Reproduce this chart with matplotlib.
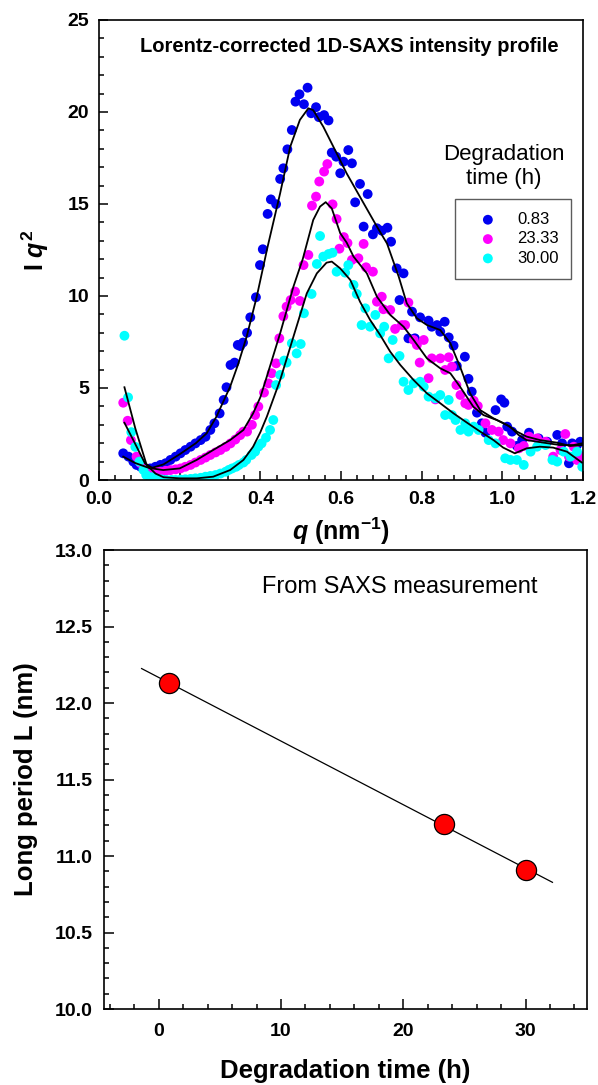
import matplotlib
matplotlib.use('Agg')
import matplotlib.pyplot as plt
import numpy as np
from matplotlib.ticker import MultipleLocator

# Lorentz-corrected SAXS profiles, I*q^2 vs q (nm^-1), for each degradation time
q_083 = [0.060, 0.073, 0.085, 0.093, 0.103, 0.115, 0.127, 0.140, 0.152, 0.165, 0.177, 0.190,
         0.202, 0.214, 0.227, 0.239, 0.252, 0.264, 0.276, 0.286, 0.299, 0.309, 0.316, 0.326,
         0.336, 0.344, 0.350, 0.357, 0.367, 0.375, 0.389, 0.399, 0.406, 0.418, 0.426, 0.439,
         0.449, 0.457, 0.467, 0.478, 0.487, 0.497, 0.508, 0.517, 0.526, 0.538, 0.545, 0.558,
         0.569, 0.577, 0.588, 0.598, 0.606, 0.618, 0.627, 0.635, 0.647, 0.656, 0.666, 0.679,
         0.689, 0.701, 0.715, 0.724, 0.738, 0.745, 0.755, 0.767, 0.776, 0.783, 0.796, 0.817,
         0.825, 0.838, 0.846, 0.857, 0.867, 0.879, 0.887, 0.907, 0.916, 0.924, 0.937, 0.949,
         0.958, 0.983, 0.997, 1.005, 1.012, 1.024, 1.036, 1.049, 1.066, 1.090, 1.111, 1.136,
         1.148, 1.165, 1.173, 1.185, 1.193]
iq2_083 = [1.45, 1.27, 1.00, 0.82, 0.72, 0.63, 0.63, 0.72, 0.82, 0.91, 1.09, 1.27,
           1.45, 1.63, 1.81, 1.99, 2.17, 2.35, 2.72, 3.08, 3.62, 4.35, 5.04, 6.25,
           6.38, 7.34, 7.28, 7.47, 8.00, 8.84, 9.93, 11.68, 12.54, 14.46, 15.25, 14.99,
           16.36, 16.94, 17.97, 19.02, 20.56, 20.96, 20.42, 21.32, 19.93, 20.26, 19.72, 19.83,
           19.54, 17.79, 17.57, 16.67, 17.30, 17.93, 17.21, 15.09, 16.09, 13.77, 15.54, 13.35,
           13.68, 13.55, 13.71, 12.95, 11.50, 9.78, 11.23, 7.70, 9.15, 7.70, 8.84, 8.66,
           8.33, 8.42, 8.06, 8.60, 7.75, 7.30, 6.20, 6.70, 5.50, 4.80, 3.66, 3.08,
           2.57, 3.80, 4.38, 4.20, 2.90, 2.63, 1.85, 2.17, 2.57, 2.26, 2.08, 2.45,
           1.99, 0.91, 1.99, 1.90, 2.08]

q_2333 = [0.060, 0.071, 0.079, 0.093, 0.103, 0.115, 0.127, 0.140, 0.152, 0.165, 0.177, 0.190,
          0.202, 0.214, 0.227, 0.239, 0.252, 0.264, 0.276, 0.289, 0.301, 0.314, 0.326, 0.338,
          0.350, 0.358, 0.367, 0.379, 0.387, 0.395, 0.409, 0.420, 0.428, 0.439, 0.447, 0.457,
          0.465, 0.475, 0.486, 0.498, 0.507, 0.519, 0.528, 0.538, 0.546, 0.558, 0.566, 0.579,
          0.589, 0.596, 0.607, 0.616, 0.627, 0.643, 0.656, 0.662, 0.679, 0.689, 0.701, 0.705,
          0.722, 0.734, 0.751, 0.759, 0.767, 0.780, 0.788, 0.795, 0.805, 0.817, 0.825, 0.834,
          0.846, 0.858, 0.867, 0.875, 0.886, 0.896, 0.908, 0.916, 0.929, 0.939, 0.958, 0.974,
          0.991, 1.002, 1.020, 1.041, 1.053, 1.066, 1.086, 1.107, 1.126, 1.144, 1.156, 1.165,
          1.177, 1.185, 1.194]
iq2_2333 = [4.20, 3.22, 2.17, 1.27, 0.91, 0.60, 0.45, 0.45, 0.45, 0.50, 0.54, 0.58,
            0.63, 0.72, 0.82, 0.95, 1.09, 1.22, 1.36, 1.50, 1.63, 1.80, 1.99, 2.20,
            2.44, 2.63, 2.63, 3.00, 3.53, 3.99, 4.75, 5.25, 5.80, 6.34, 7.70, 8.90,
            9.42, 9.78, 10.24, 9.73, 11.68, 12.23, 14.91, 15.40, 16.22, 16.76, 17.17, 14.98,
            14.18, 12.57, 13.20, 12.88, 11.96, 12.05, 12.83, 11.56, 11.32, 9.69, 9.96, 9.28,
            9.24, 8.21, 8.42, 8.42, 9.64, 7.61, 7.34, 6.38, 7.61, 5.53, 6.61, 4.38,
            6.61, 5.98, 6.67, 6.16, 5.16, 4.62, 4.17, 4.08, 4.31, 4.02, 3.08, 2.72,
            2.63, 2.17, 1.99, 1.72, 1.85, 2.36, 2.26, 2.08, 1.27, 1.63, 2.50, 1.27,
            1.81, 1.09, 1.30]

q_3000 = [0.063, 0.072, 0.080, 0.090, 0.100, 0.110, 0.117, 0.130, 0.142, 0.155, 0.167, 0.180,
          0.190, 0.202, 0.214, 0.227, 0.239, 0.252, 0.264, 0.276, 0.289, 0.301, 0.314, 0.322,
          0.330, 0.340, 0.347, 0.358, 0.365, 0.378, 0.387, 0.395, 0.403, 0.414, 0.424, 0.432,
          0.439, 0.449, 0.459, 0.465, 0.478, 0.490, 0.500, 0.508, 0.527, 0.540, 0.548, 0.556,
          0.569, 0.579, 0.589, 0.610, 0.618, 0.631, 0.639, 0.651, 0.660, 0.672, 0.685, 0.697,
          0.707, 0.718, 0.728, 0.745, 0.755, 0.767, 0.780, 0.796, 0.805, 0.817, 0.834, 0.846,
          0.858, 0.867, 0.875, 0.884, 0.896, 0.908, 0.916, 0.929, 0.941, 0.966, 0.983, 1.007,
          1.020, 1.036, 1.053, 1.070, 1.086, 1.107, 1.124, 1.136, 1.152, 1.169, 1.185, 1.198]
iq2_3000 = [7.84, 4.49, 2.60, 1.80, 1.00, 0.55, 0.27, 0.15, 0.09, 0.03, 0.00, 0.00,
            0.00, 0.02, 0.04, 0.06, 0.09, 0.12, 0.18, 0.22, 0.27, 0.35, 0.45, 0.55,
            0.63, 0.72, 0.82, 0.95, 1.09, 1.36, 1.54, 1.81, 1.99, 2.30, 2.72, 3.26,
            5.16, 5.71, 6.49, 6.38, 7.43, 6.88, 7.39, 9.06, 10.11, 11.74, 13.26, 12.14,
            12.28, 12.35, 11.32, 11.27, 11.68, 10.60, 10.11, 8.42, 9.33, 8.33, 8.97, 7.97,
            8.33, 6.61, 7.61, 6.74, 5.34, 4.89, 5.25, 5.34, 5.07, 4.53, 4.44, 4.62,
            3.53, 4.35, 3.53, 3.26, 2.72, 3.08, 2.63, 2.90, 2.72, 2.17, 1.99, 1.18,
            1.09, 1.09, 0.82, 1.54, 1.81, 1.90, 1.09, 1.00, 1.54, 1.27, 1.54, 0.72]

# smoothed fit curves through each profile
fit_q_083 = [0.060, 0.090, 0.127, 0.160, 0.200, 0.240, 0.267, 0.291, 0.325, 0.345, 0.366, 0.391,
             0.418, 0.449, 0.474, 0.498, 0.519, 0.531, 0.556, 0.581, 0.614, 0.656, 0.689, 0.714,
             0.743, 0.763, 0.788, 0.813, 0.846, 0.871, 0.896, 0.920, 0.945, 0.978, 1.011, 1.036,
             1.060, 1.093, 1.135, 1.168, 1.197]
fit_083 = [1.27, 0.92, 0.63, 0.85, 1.40, 2.00, 2.54, 3.44, 5.07, 6.30, 7.79, 9.96,
           12.68, 15.58, 18.11, 19.57, 20.20, 20.10, 19.20, 18.11, 16.66, 15.04, 13.77, 12.85,
           11.05, 9.60, 8.79, 8.42, 8.15, 7.43, 6.10, 4.71, 3.80, 3.35, 3.00, 2.63,
           2.36, 2.17, 2.03, 1.85, 1.90]

fit_q_2333 = [0.063, 0.090, 0.114, 0.135, 0.159, 0.200, 0.242, 0.283, 0.325, 0.358, 0.382, 0.400,
              0.416, 0.449, 0.482, 0.505, 0.531, 0.548, 0.562, 0.577, 0.598, 0.614, 0.631, 0.664,
              0.689, 0.722, 0.755, 0.780, 0.813, 0.846, 0.871, 0.895, 0.928, 0.953, 0.986, 1.019,
              1.040, 1.060, 1.102, 1.143, 1.176, 1.197]
fit_2333 = [3.11, 1.95, 0.90, 0.62, 0.54, 0.63, 1.09, 1.63, 2.17, 2.72, 3.62, 4.50,
            5.62, 7.97, 10.51, 12.00, 14.13, 14.86, 15.10, 14.76, 13.41, 12.90, 12.14, 11.23,
            9.96, 8.97, 8.33, 7.61, 6.61, 6.07, 5.80, 5.07, 3.98, 3.53, 3.26, 2.90,
            2.45, 2.17, 2.03, 1.90, 1.90, 1.99]

fit_q_3000 = [0.063, 0.090, 0.118, 0.140, 0.160, 0.200, 0.242, 0.283, 0.325, 0.358, 0.382, 0.400,
              0.416, 0.449, 0.482, 0.515, 0.540, 0.564, 0.577, 0.598, 0.623, 0.647, 0.672, 0.697,
              0.722, 0.747, 0.780, 0.813, 0.846, 0.879, 0.912, 0.945, 0.978, 1.002, 1.031, 1.060,
              1.093, 1.126, 1.160, 1.197]
fit_3000 = [5.04, 2.80, 0.82, 0.35, 0.15, 0.09, 0.09, 0.18, 0.54, 1.09, 1.81, 2.60,
            3.44, 5.43, 7.79, 10.14, 11.23, 11.81, 11.87, 11.50, 10.87, 9.69, 8.70, 7.88,
            6.97, 6.25, 5.43, 4.71, 4.17, 3.62, 3.12, 2.63, 2.17, 1.76, 1.45, 1.72,
            1.81, 1.76, 1.54, 0.95]

series_labels = ['0.83', '23.33', '30.00']

# long period from SAXS vs degradation time
deg_time = [0.83, 23.33, 30.00]
long_period = [12.13, 11.21, 10.91]
fit_range = [-1.4, 32.2]

if __name__ == '__main__':
    plt.rcParams['font.family'] = ['Liberation Sans', 'DejaVu Sans']
    plt.rcParams['mathtext.fontset'] = 'custom'
    plt.rcParams['mathtext.rm'] = 'Liberation Sans:bold'
    plt.rcParams['mathtext.bf'] = 'Liberation Sans:bold'
    plt.rcParams['mathtext.it'] = 'Liberation Sans:bold:italic'

    fig = plt.figure(figsize=(5.98, 10.85), dpi=100)

    # ---- top: Lorentz-corrected intensity profiles
    ax1 = fig.add_axes([0.1656, 0.5576, 0.8094, 0.4240])
    colors = ['#0000F0', '#FF00FF', '#00FFFF']
    for q, iq, c, lab in zip([q_083, q_2333, q_3000], [iq2_083, iq2_2333, iq2_3000],
                             colors, series_labels):
        ax1.scatter(q, iq, s=50, color=c, edgecolors='none', label=lab, zorder=2)
    for fq, fi in zip([fit_q_083, fit_q_2333, fit_q_3000], [fit_083, fit_2333, fit_3000]):
        ax1.plot(fq, fi, color='k', lw=1.3, zorder=3)

    ax1.set_xlim(0, 1.2)
    ax1.set_ylim(0, 25)
    ax1.xaxis.set_major_locator(MultipleLocator(0.2))
    ax1.xaxis.set_minor_locator(MultipleLocator(0.04))
    ax1.yaxis.set_major_locator(MultipleLocator(5))
    ax1.yaxis.set_minor_locator(MultipleLocator(1))
    ax1.xaxis.set_major_formatter(plt.FormatStrFormatter('%.1f'))
    ax1.tick_params(which='both', direction='in', width=1.1, top=False, right=False,
                    labelsize=14)
    ax1.tick_params(which='major', length=6.5)
    ax1.tick_params(which='minor', length=3.8)
    ax1.tick_params(axis='x', pad=8)
    ax1.tick_params(axis='y', pad=7)
    for lbl in ax1.get_xticklabels() + ax1.get_yticklabels():
        lbl.set_fontweight('bold')
    for sp in ax1.spines.values():
        sp.set_linewidth(1.2)

    ax1.set_xlabel(r'$\mathit{q}$ (nm$^{-1}$)', fontsize=18, fontweight='bold', va='center')
    ax1.xaxis.set_label_coords(0.5, -0.112)
    ax1.set_ylabel(r'I $\mathit{q}^{\mathit{2}}$', fontsize=18, fontweight='bold', va='center')
    ax1.yaxis.set_label_coords(-0.132, 0.5)

    ax1.text(0.517, 0.942, 'Lorentz-corrected 1D-SAXS intensity profile', transform=ax1.transAxes,
             ha='center', va='center', fontsize=14.5, fontweight='bold')
    ax1.text(0.836, 0.6815, 'Degradation\ntime (h)', transform=ax1.transAxes,
             ha='center', va='center', multialignment='center', fontsize=16)
    leg = ax1.legend(loc='upper left', bbox_to_anchor=(0.7355, 0.6102), borderaxespad=0,
                     fontsize=12, frameon=True, fancybox=False, borderpad=0.77,
                     handlelength=2.4, handletextpad=0.55, labelspacing=0.26,
                     scatterpoints=1)
    leg.get_frame().set_edgecolor('#333333')
    leg.get_frame().set_linewidth(1.0)

    # ---- bottom: long period vs degradation time
    ax2 = fig.add_axes([0.1734, 0.0700, 0.8077, 0.4230])
    slope, intercept = np.polyfit(deg_time, long_period, 1)
    xf = np.array(fit_range)
    ax2.plot(xf, slope * xf + intercept, color='k', lw=0.9, zorder=2)
    ax2.plot(deg_time, long_period, 'o', ms=14.5, mfc='#FF0000', mec='k', mew=0.9, zorder=3)

    ax2.set_xlim(-4.5, 35)
    ax2.set_ylim(10.0, 13.0)
    ax2.xaxis.set_major_locator(MultipleLocator(10))
    ax2.xaxis.set_minor_locator(MultipleLocator(2))
    ax2.yaxis.set_major_locator(MultipleLocator(0.5))
    ax2.yaxis.set_minor_locator(MultipleLocator(0.1))
    ax2.yaxis.set_major_formatter(plt.FormatStrFormatter('%.1f'))
    ax2.tick_params(which='both', direction='in', width=1.1, top=False, right=False,
                    labelsize=14)
    ax2.tick_params(which='major', length=7)
    ax2.tick_params(which='minor', length=3.8)
    ax2.tick_params(axis='x', pad=10)
    ax2.tick_params(axis='y', pad=8)
    for lbl in ax2.get_xticklabels() + ax2.get_yticklabels():
        lbl.set_fontweight('bold')
    for sp in ax2.spines.values():
        sp.set_linewidth(1.2)

    ax2.set_xlabel('Degradation time (h)', fontsize=18.5, fontweight='bold', va='center')
    ax2.xaxis.set_label_coords(0.5, -0.135)
    ax2.set_ylabel('Long period L (nm)', fontsize=18.5, fontweight='bold', va='center')
    ax2.yaxis.set_label_coords(-0.161, 0.5)

    ax2.text(0.613, 0.919, 'From SAXS measurement', transform=ax2.transAxes,
             ha='center', va='center', fontsize=17)

    fig.savefig('out.png', dpi=100)
